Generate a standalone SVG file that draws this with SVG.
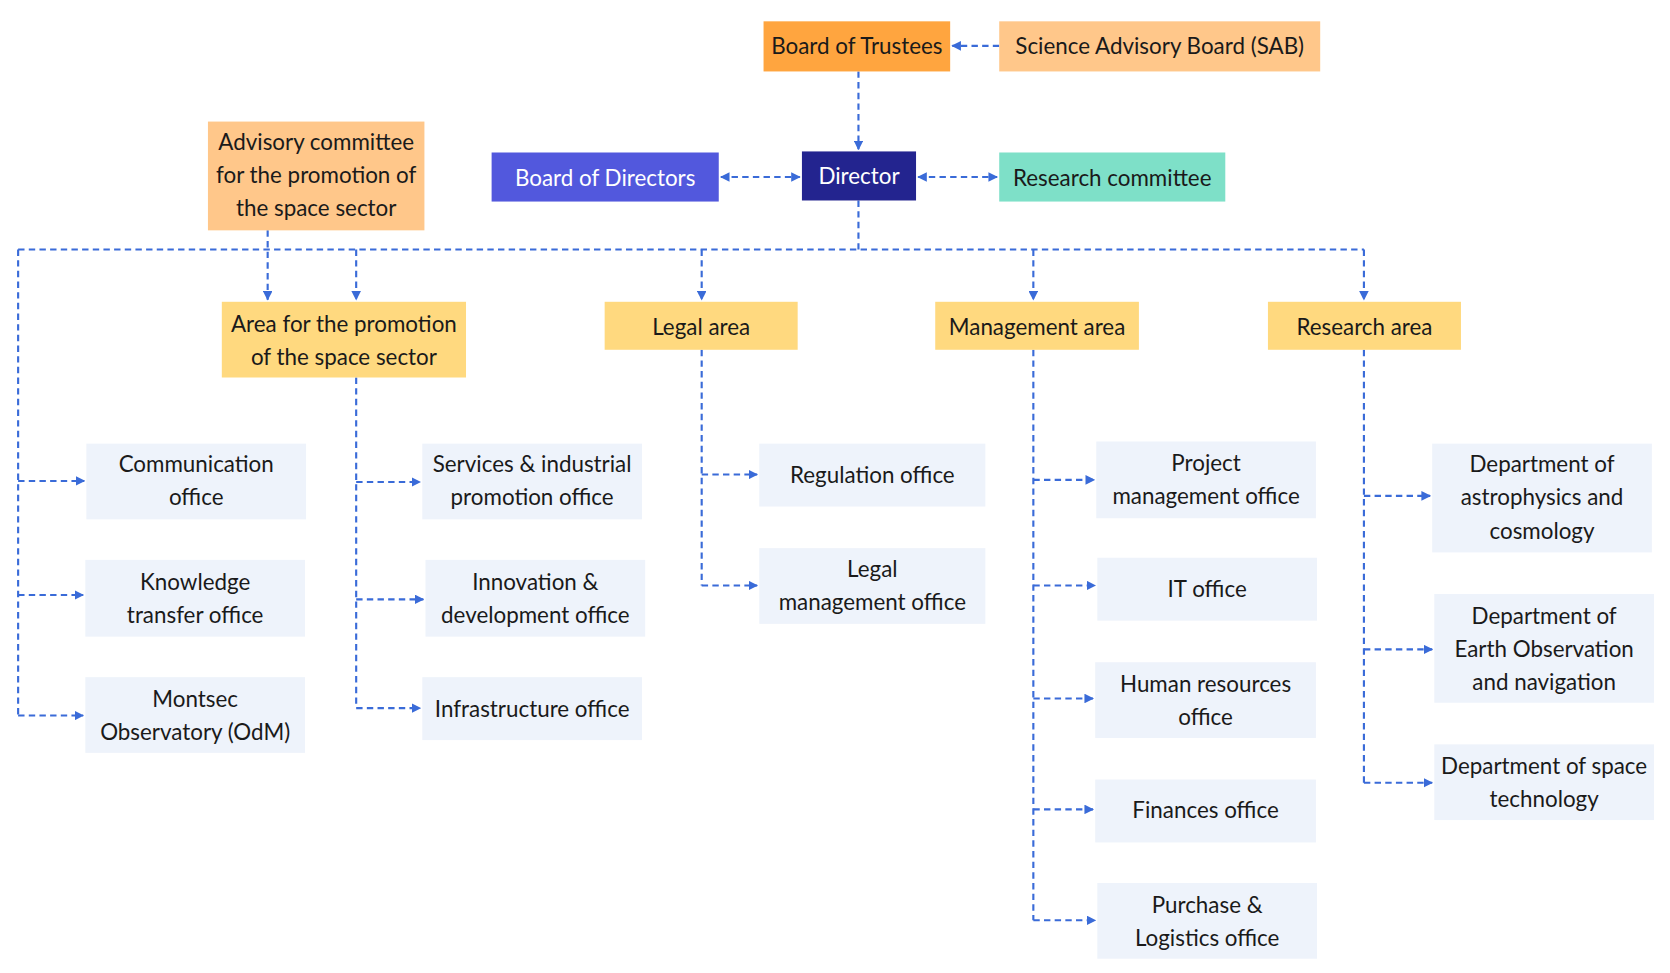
<svg xmlns="http://www.w3.org/2000/svg" width="1670" height="973" viewBox="0 0 1670 973">
<defs>
<marker id="a" viewBox="0 0 10 10" refX="9" refY="5" markerWidth="9" markerHeight="9" markerUnits="userSpaceOnUse" orient="auto-start-reverse"><path d="M0,0L10,5L0,10z" fill="#3A6BD8"/></marker>
<style>
text{font-family:"Source Sans Pro","Lato","Noto Sans",sans-serif;font-size:21px;fill:#1a1a1a;text-anchor:middle}
.w{fill:#fff}
.c path{fill:none;stroke:#3A6BD8;stroke-width:2;stroke-dasharray:6,4}
.o{fill:#EEF3FB}.y{fill:#FFD97F}
</style>
</defs>
<rect width="1670" height="973" fill="#fff"/>
<g transform="scale(1.0664)">
<g class="c">
<path d="M937,43H893" marker-end="url(#a)"/>
<path d="M805,67V140" marker-end="url(#a)"/>
<path d="M676,166H750" marker-start="url(#a)" marker-end="url(#a)"/>
<path d="M861,166H935" marker-start="url(#a)" marker-end="url(#a)"/>
<path d="M805,188V234M17,234H1279"/>
<path d="M251,216V281" marker-end="url(#a)"/>
<path d="M334,234V281" marker-end="url(#a)"/>
<path d="M658,234V281" marker-end="url(#a)"/>
<path d="M969,234V281" marker-end="url(#a)"/>
<path d="M1279,234V281" marker-end="url(#a)"/>
<path d="M17,234V671"/>
<path d="M17,451H79" marker-end="url(#a)"/>
<path d="M17,558H78" marker-end="url(#a)"/>
<path d="M17,671H78" marker-end="url(#a)"/>
<path d="M334,354V664"/>
<path d="M334,452H394" marker-end="url(#a)"/>
<path d="M334,562H397" marker-end="url(#a)"/>
<path d="M334,664H394" marker-end="url(#a)"/>
<path d="M658,328V549"/>
<path d="M658,445H710" marker-end="url(#a)"/>
<path d="M658,549H710" marker-end="url(#a)"/>
<path d="M969,328V863"/>
<path d="M969,450H1026" marker-end="url(#a)"/>
<path d="M969,549H1027" marker-end="url(#a)"/>
<path d="M969,655H1025" marker-end="url(#a)"/>
<path d="M969,759H1025" marker-end="url(#a)"/>
<path d="M969,863H1027" marker-end="url(#a)"/>
<path d="M1279,328V734"/>
<path d="M1279,465H1341" marker-end="url(#a)"/>
<path d="M1279,609H1343" marker-end="url(#a)"/>
<path d="M1279,734H1343" marker-end="url(#a)"/>
</g>
<g id="bot"><rect x="716" y="20" width="175" height="47" fill="#FFA53F"/><text x="803.5" y="51">Board of Trustees</text></g>
<g id="sab"><rect x="937" y="20" width="301" height="47" fill="#FFC78A"/><text x="1087.5" y="51">Science Advisory Board (SAB)</text></g>
<g id="dir"><rect x="752" y="142" width="107" height="46" fill="#23248F"/><text class="w" x="805.5" y="173">Director</text></g>
<g id="bod"><rect x="461" y="143" width="213" height="46" fill="#5258DD"/><text class="w" x="567.5" y="174">Board of Directors</text></g>
<g id="rc"><rect x="937" y="143" width="212" height="46" fill="#7EE0C8"/><text x="1043" y="174">Research committee</text></g>
<g id="adv"><rect x="195" y="114" width="203" height="102" fill="#FFC78A"/><text x="296.5" y="141">Advisory committee</text><text x="296.5" y="172">for the promotion of</text><text x="296.5" y="203">the space sector</text></g>
<g id="apr"><rect class="y" x="208" y="283" width="229" height="71"/><text x="322.5" y="311">Area for the promotion</text><text x="322.5" y="342">of the space sector</text></g>
<g id="legal"><rect class="y" x="567" y="283" width="181" height="45"/><text x="657.5" y="314">Legal area</text></g>
<g id="mgmt"><rect class="y" x="877" y="283" width="191" height="45"/><text x="972.5" y="314">Management area</text></g>
<g id="res"><rect class="y" x="1189" y="283" width="181" height="45"/><text x="1279.5" y="314">Research area</text></g>
<g id="comm"><rect class="o" x="81" y="416" width="206" height="71"/><text x="184" y="443">Communication</text><text x="184" y="474">office</text></g>
<g id="kt"><rect class="o" x="80" y="525" width="206" height="72"/><text x="183" y="553">Knowledge</text><text x="183" y="584">transfer office</text></g>
<g id="odm"><rect class="o" x="80" y="635" width="206" height="71"/><text x="183" y="663">Montsec</text><text x="183" y="694">Observatory (OdM)</text></g>
<g id="serv"><rect class="o" x="396" y="416" width="206" height="71"/><text x="499" y="443">Services &amp; industrial</text><text x="499" y="474">promotion office</text></g>
<g id="innov"><rect class="o" x="399" y="525" width="206" height="72"/><text x="502" y="553">Innovation &amp;</text><text x="502" y="584">development office</text></g>
<g id="infra"><rect class="o" x="396" y="635" width="206" height="59"/><text x="499" y="672">Infrastructure office</text></g>
<g id="reg"><rect class="o" x="712" y="416" width="212" height="59"/><text x="818" y="453">Regulation office</text></g>
<g id="lmo"><rect class="o" x="712" y="514" width="212" height="71"/><text x="818" y="541">Legal</text><text x="818" y="572">management office</text></g>
<g id="pmo"><rect class="o" x="1028" y="414" width="206" height="72"/><text x="1131" y="442">Project</text><text x="1131" y="473">management office</text></g>
<g id="it"><rect class="o" x="1029" y="523" width="206" height="59"/><text x="1132" y="560">IT office</text></g>
<g id="hr"><rect class="o" x="1027" y="621" width="207" height="71"/><text x="1130.5" y="649">Human resources</text><text x="1130.5" y="680">office</text></g>
<g id="fin"><rect class="o" x="1027" y="731" width="207" height="59"/><text x="1130.5" y="767">Finances office</text></g>
<g id="pur"><rect class="o" x="1029" y="828" width="206" height="71"/><text x="1132" y="856">Purchase &amp;</text><text x="1132" y="887">Logistics office</text></g>
<g id="astro"><rect class="o" x="1343" y="416" width="206" height="102"/><text x="1446" y="443">Department of</text><text x="1446" y="474">astrophysics and</text><text x="1446" y="505">cosmology</text></g>
<g id="eo"><rect class="o" x="1345" y="557" width="206" height="102"/><text x="1448" y="585">Department of</text><text x="1448" y="616">Earth Observation</text><text x="1448" y="647">and navigation</text></g>
<g id="st"><rect class="o" x="1345" y="698" width="206" height="71"/><text x="1448" y="726">Department of space</text><text x="1448" y="757">technology</text></g>
</g>
</svg>
